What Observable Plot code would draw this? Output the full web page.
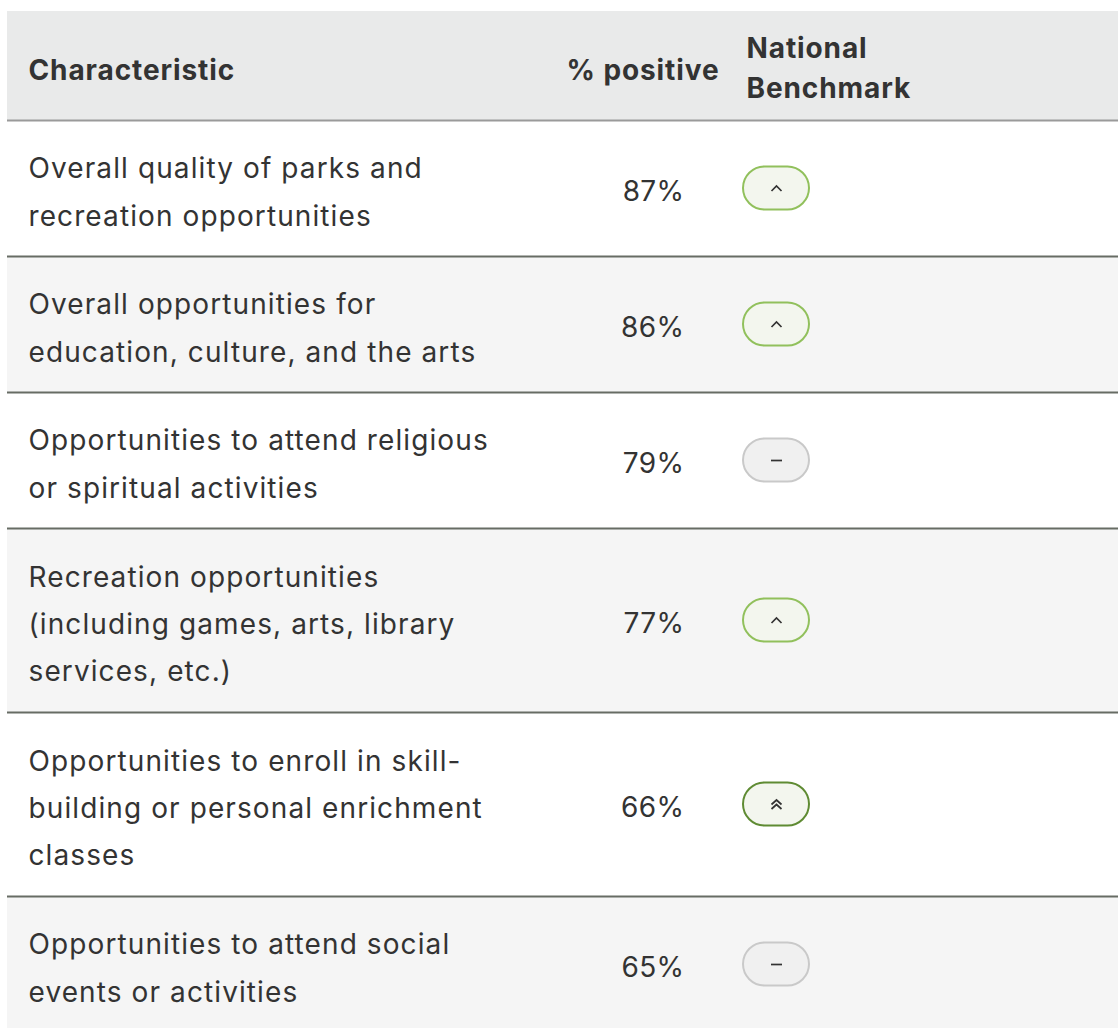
<!DOCTYPE html>
<html>
<head>
<meta charset="utf-8">
<script src="https://cdn.jsdelivr.net/npm/d3@7"></script>
<script src="https://cdn.jsdelivr.net/npm/@observablehq/plot@0.6"></script>
<style>
  html, body { margin: 0; padding: 0; background: #ffffff; overflow: hidden; }
  #chart svg { display: block; }
  #chart svg text { letter-spacing: 1.1px; }
  #chart svg g.head text { letter-spacing: 0.9px; }
  #chart svg g.val text { letter-spacing: 0.4px; }
</style>
</head>
<body>
<div id="chart"></div>
<script>
// ---- data ----
const headers = ["Characteristic", "% positive", "National\nBenchmark"];
const characteristics = [
  "Overall quality of parks and\nrecreation opportunities",
  "Overall opportunities for\neducation, culture, and the arts",
  "Opportunities to attend religious\nor spiritual activities",
  "Recreation opportunities\n(including games, arts, library\nservices, etc.)",
  "Opportunities to enroll in skill-\nbuilding or personal enrichment\nclasses",
  "Opportunities to attend social\nevents or activities"
];
const percentPositive = [87, 86, 79, 77, 66, 65];
const benchmarks = ["Higher", "Higher", "Similar", "Higher", "Much higher", "Similar"];

// ---- layout (pixels within the table) ----
const W = 1118, H = 1028, tableLeft = 7, tableTop = 11;
const headerH = 109;
const lineH = 48, rowPad = 40;
const colText = 21, colValue = 677, colPctHead = 712, colBenchHead = 739, colPill = 769;
const pillHalfW = 33, pillHalfH = 21.5;
const font = "Inter, Roboto, sans-serif";

const benchStyle = {
  "Higher":      {stroke: "#91c05c", fill: "#f3f6ee", symbol: "up"},
  "Much higher": {stroke: "#5f8b33", fill: "#f3f6ee", symbol: "up2"},
  "Similar":     {stroke: "#c9c9c9", fill: "#f0f0f0", symbol: "dash"}
};

let cursor = headerH;
const rows = characteristics.map((label, i) => {
  const lines = label.split("\n").length;
  const h = rowPad + lineH * lines;
  const r = {i, label, pct: percentPositive[i], bench: benchmarks[i], y1: cursor, y2: cursor + h, yc: cursor + h / 2};
  cursor += h;
  return r;
});

const symbols = {
  up: {draw(ctx, size) { const s = Math.sqrt(size / Math.PI); ctx.moveTo(-s, s * 0.5); ctx.lineTo(0, -s * 0.5); ctx.lineTo(s, s * 0.5); }},
  up2: {draw(ctx, size) { const s = Math.sqrt(size / Math.PI);
    ctx.moveTo(-s, 0); ctx.lineTo(0, -s * 0.9); ctx.lineTo(s, 0);
    ctx.moveTo(-s, s * 0.9); ctx.lineTo(0, 0); ctx.lineTo(s, s * 0.9); }},
  dash: {draw(ctx, size) { const s = Math.sqrt(size / Math.PI); ctx.moveTo(-s * 1.1, 0); ctx.lineTo(s * 1.1, 0); }}
};

const headerRow = [{y1: 0, y2: headerH}];
const headStyle = {y: headerH / 2, fontWeight: "bold", fontSize: 28, fill: "#333333", className: "head"};

const chart = Plot.plot({
  width: W,
  height: H,
  marginTop: tableTop, marginLeft: tableLeft, marginRight: 0, marginBottom: 0,
  x: {domain: [0, W - tableLeft], axis: null},
  y: {domain: [0, H - tableTop], axis: null, reverse: true},
  style: {fontFamily: font, background: "#ffffff", color: "#333333"},
  marks: [
    Plot.rect(headerRow, {x1: 0, x2: W - tableLeft, y1: "y1", y2: "y2", fill: "#e9eaea"}),
    Plot.rect(rows, {x1: 0, x2: W - tableLeft, y1: "y1", y2: "y2", fill: d => d.i % 2 ? "#f5f5f5" : "#ffffff"}),
    Plot.ruleY([headerH], {x1: 0, x2: W - tableLeft, stroke: "#9a9a9a", strokeWidth: 2}),
    Plot.ruleY(rows.slice(1), {y: "y1", x1: 0, x2: W - tableLeft, stroke: "#676c64", strokeWidth: 2}),
    Plot.text([headers[0]], {...headStyle, x: colText, text: d => d, textAnchor: "start", dy: 5}),
    Plot.text([headers[1]], {...headStyle, x: colPctHead, text: d => d, textAnchor: "end", dy: 5}),
    Plot.text([headers[2]], {...headStyle, x: colBenchHead, text: d => d, textAnchor: "start", lineHeight: 1.43, dy: -1}),
    Plot.text(rows, {x: colText, y: "yc", text: "label", textAnchor: "start", fontSize: 28, lineHeight: 1.69, fill: "#333333", dy: -1.5}),
    Plot.text(rows, {x: colValue, y: "yc", text: d => `${d.pct}%`, textAnchor: "end", fontSize: 28, fill: "#333333", dy: 4, className: "val"}),
    Plot.rect(rows, {
      x1: colPill - pillHalfW, x2: colPill + pillHalfW,
      y1: d => d.yc - pillHalfH, y2: d => d.yc + pillHalfH,
      rx: pillHalfH,
      fill: d => benchStyle[d.bench].fill,
      stroke: d => benchStyle[d.bench].stroke,
      strokeWidth: 2
    }),
    ...Object.keys(symbols).map(k => Plot.dot(rows.filter(d => benchStyle[d.bench].symbol === k), {
      x: colPill, y: "yc", r: 5, symbol: symbols[k], fill: "none", stroke: "#333333", strokeWidth: 1.7
    }))
  ]
});

document.getElementById("chart").appendChild(chart);
</script>
</body>
</html>
